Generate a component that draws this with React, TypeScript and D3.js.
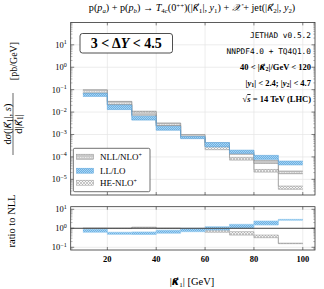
import React from 'react';
import * as d3 from 'd3';

// bin edges in |k1| [GeV]
const binEdges = [10, 20, 30, 40, 50, 60, 70, 80, 90, 100];

// NLL/NLO+ band [pb/GeV]
const nllLo = [0.066, 0.0214, 0.0072, 0.0025, 0.00078, 3.1e-4, 1.3e-4, 5.1e-5, 1.78e-5];
const nllHi = [0.098, 0.03, 0.0102, 0.0032, 0.001, 4.2e-4, 1.75e-4, 6.9e-5, 2.34e-5];
// LL/LO band
const llLo = [0.05, 0.0129, 0.0044, 0.00155, 0.00065, 2.8e-4, 1.44e-4, 7.8e-5, 4.4e-5];
const llHi = [0.069, 0.0204, 0.0065, 0.0023, 0.00081, 4.4e-4, 2.0e-4, 1.17e-4, 6.5e-5];
// HE-NLO+ band
const heLo = [0.068, 0.022, 0.0078, 0.0025, 0.0007, 2.1e-4, 7.2e-5, 2.1e-5, 3.6e-6];
const heHi = [0.095, 0.029, 0.011, 0.0032, 0.0009, 2.9e-4, 9.3e-5, 2.75e-5, 5.0e-6];

// ratio to NLL
const ratioLlLo = [0.62, 0.48, 0.47, 0.55, 0.66, 0.81, 1.0, 1.49, 2.65];
const ratioLlHi = [0.89, 0.62, 0.64, 0.79, 1.0, 1.21, 1.62, 2.42, 2.95];
const ratioHeLo = [0.96, 0.97, 1.1, 0.97, 0.8, 0.62, 0.44, 0.32, 0.155];
const ratioHeHi = [1.04, 1.03, 1.15, 1.03, 0.95, 0.81, 0.66, 0.44, 0.165];

const xTicks = [20, 40, 60, 80, 100];
const mainExps = [1, 0, -1, -2, -3, -4, -5];
const ratioExps = [1, 0, -1];

const serif = '"Liberation Serif", "DejaVu Serif", serif';
const mono = '"DejaVu Sans Mono", "Liberation Mono", monospace';
const kFont = '"DejaVu Sans", sans-serif';

const L = 70.7, R = 315;
const x = d3.scaleLinear().domain([5, 105]).range([L, R]);
const yMain = d3.scaleLog().domain([2e-6, 100]).range([195, 22.4]);
const yRatio = d3.scaleLog().domain([0.072, 13.7]).range([250, 206.7]);

const Pow = ({ e }: { e: number }) => (
  <>
    10<tspan dy={-3.5} fontSize={6}>{e < 0 ? '\u2212' + -e : e}</tspan>
  </>
);

function stairs(vals: number[], y: any) {
  const pts: [number, number][] = vals.map((v, i) => [binEdges[i], v]);
  pts.push([binEdges[binEdges.length - 1], vals[vals.length - 1]]);
  return d3.line<[number, number]>()
    .x(d => x(d[0]))
    .y(d => y(d[1]))
    .curve(d3.curveStepAfter)(pts) as string;
}

function Band({ lo, hi, y, fill, stroke }: { lo: number[]; hi: number[]; y: any; fill: string; stroke: string }) {
  return (
    <g>
      {lo.map((v, i) => (
        <rect key={i} x={x(binEdges[i])} width={x(binEdges[i + 1]) - x(binEdges[i])}
          y={y(hi[i])} height={Math.max(0.8, y(v) - y(hi[i]))} fill={fill} />
      ))}
      <path d={stairs(lo, y)} fill="none" stroke={stroke} strokeWidth={0.6} />
      <path d={stairs(hi, y)} fill="none" stroke={stroke} strokeWidth={0.6} />
    </g>
  );
}

function Frame({ top, bottom, y, exps }: { top: number; bottom: number; y: any; exps: number[] }) {
  const minor: number[] = [];
  const [d0, d1] = y.domain();
  for (let e = Math.floor(Math.log10(d0)); e <= Math.ceil(Math.log10(d1)); e++) {
    for (let m = 2; m < 10; m++) {
      const v = m * Math.pow(10, e);
      if (v > d0 && v < d1) minor.push(v);
    }
  }
  return (
    <g>
      {xTicks.map(t => (
        <line key={'gx' + t} x1={x(t)} x2={x(t)} y1={top} y2={bottom} stroke="#e4e4e4" strokeWidth={0.7} />
      ))}
      {exps.map(e => (
        <line key={'gy' + e} x1={L} x2={R} y1={y(Math.pow(10, e))} y2={y(Math.pow(10, e))} stroke="#e4e4e4" strokeWidth={0.7} />
      ))}
      {xTicks.map(t => (
        <g key={'tx' + t}>
          <line x1={x(t)} x2={x(t)} y1={top} y2={top + 3} stroke="#333" strokeWidth={0.6} />
          <line x1={x(t)} x2={x(t)} y1={bottom} y2={bottom - 3} stroke="#333" strokeWidth={0.6} />
        </g>
      ))}
      {exps.map(e => (
        <g key={'ty' + e}>
          <line x1={L} x2={L + 3.5} y1={y(Math.pow(10, e))} y2={y(Math.pow(10, e))} stroke="#333" strokeWidth={0.6} />
          <line x1={R} x2={R - 3.5} y1={y(Math.pow(10, e))} y2={y(Math.pow(10, e))} stroke="#333" strokeWidth={0.6} />
          <text x={L - 4} y={y(Math.pow(10, e)) + 3} textAnchor="end" fontSize={8.5} fontFamily={serif}>
            <Pow e={e} />
          </text>
        </g>
      ))}
      {minor.map((v, i) => (
        <g key={'m' + i}>
          <line x1={L} x2={L + 1.8} y1={y(v)} y2={y(v)} stroke="#555" strokeWidth={0.4} />
          <line x1={R} x2={R - 1.8} y1={y(v)} y2={y(v)} stroke="#555" strokeWidth={0.4} />
        </g>
      ))}
    </g>
  );
}

// kappa-vector with subscript; `after` is set back on the normal baseline
const K = ({ n, after, sub = 1.8 }: { n: number; after: string; sub?: number }) => (
  <>
    <tspan fontStyle="italic" fontFamily={kFont}>{'\u03BA\u20D7'}</tspan>
    <tspan dy={sub} fontSize="70%">{n}</tspan>
    <tspan dy={-sub}>{after}</tspan>
  </>
);

export default function App() {
  return (
    <svg width={324} height={289} style={{ position: 'absolute', left: 0, top: 0, background: '#fff' }}>
      <defs>
        <pattern id="pNll" width={2.5} height={3} patternUnits="userSpaceOnUse">
          <rect width={2.5} height={3} fill="#c9c9c9" />
          <rect x={0} y={1} width={1.2} height={0.9} fill="#f4f4f4" />
        </pattern>
        <pattern id="pLl" width={2} height={2} patternUnits="userSpaceOnUse">
          <rect width={2} height={2} fill="#6cb2e4" />
          <rect width={1} height={1} fill="#a9d3f2" />
          <rect x={1} y={1} width={1} height={1} fill="#a9d3f2" />
        </pattern>
        <pattern id="pHe" width={3} height={3} patternUnits="userSpaceOnUse">
          <rect width={3} height={3} fill="#f6f6f6" />
          <path d="M0,0 L3,3 M3,0 L0,3" stroke="#a8a8a8" strokeWidth={0.6} />
        </pattern>
      </defs>

      {/* title */}
      <text x={192} y={11} textAnchor="middle" fontSize={10.2} fontFamily={serif}>
        p(<tspan fontStyle="italic">p</tspan><tspan dy={1.8} fontSize={6.8} fontStyle="italic">a</tspan>
        <tspan dy={-1.8}>) + p(</tspan><tspan fontStyle="italic">p</tspan><tspan dy={1.8} fontSize={6.8} fontStyle="italic">b</tspan>
        <tspan dy={-1.8}>) → </tspan><tspan fontStyle="italic">T</tspan><tspan dy={1.8} fontSize={6.8}>4</tspan><tspan fontSize={6.8} fontStyle="italic">c</tspan>
        <tspan dy={-1.8}>(0</tspan><tspan dy={-3.4} fontSize={6.8}>++</tspan><tspan dy={3.4}>)(|</tspan>
        <K n={1} after="|, " /><tspan fontStyle="italic">y</tspan><tspan dy={1.8} fontSize={6.8}>1</tspan>
        <tspan dy={-1.8}>) + </tspan><tspan fontStyle="italic">𝒳</tspan><tspan> + jet(|</tspan>
        <K n={2} after="|, " /><tspan fontStyle="italic">y</tspan><tspan dy={1.8} fontSize={6.8}>2</tspan>
        <tspan dy={-1.8}>)</tspan>
      </text>

      {/* main panel */}
      <Frame top={22.4} bottom={195} y={yMain} exps={mainExps} />
      <Band lo={heLo} hi={heHi} y={yMain} fill="url(#pHe)" stroke="#9a9a9a" />
      <Band lo={nllLo} hi={nllHi} y={yMain} fill="url(#pNll)" stroke="#8a8a8a" />
      <Band lo={llLo} hi={llHi} y={yMain} fill="url(#pLl)" stroke="#5fa6dc" />
      <rect x={L} y={22.4} width={R - L} height={195 - 22.4} fill="none" stroke="#333" strokeWidth={0.8} />

      {/* DeltaY box */}
      <rect x={80} y={33.5} width={92.5} height={19.5} rx={2.5} fill="#fff" stroke="#222" strokeWidth={0.8} />
      <text x={126.2} y={48.3} textAnchor="middle" fontSize={14} fontWeight="bold" fontFamily={serif}>
        3 &lt; Δ<tspan fontStyle="italic">Y</tspan> &lt; 4.5
      </text>

      {/* right annotations */}
      <text x={311} y={38} textAnchor="end" fontSize={7.8} fontFamily={mono}>JETHAD v0.5.2</text>
      <text x={311} y={54} textAnchor="end" fontSize={7.8} fontFamily={mono}>NNPDF4.0 + TQ4Q1.0</text>
      <text x={311} y={69.5} textAnchor="end" fontSize={8.5} fontFamily={serif} fontWeight="bold">
        40 &lt; |<K n={2} after="|/GeV < 120" />
      </text>
      <text x={311} y={85.5} textAnchor="end" fontSize={8.5} fontFamily={serif} fontWeight="bold">
        |<tspan fontStyle="italic">y</tspan><tspan dy={1.8} fontSize={6}>1</tspan><tspan dy={-1.8}>| &lt; 2.4;  |</tspan>
        <tspan fontStyle="italic">y</tspan><tspan dy={1.8} fontSize={6}>2</tspan><tspan dy={-1.8}>| &lt; 4.7</tspan>
      </text>
      <text x={311} y={102} textAnchor="end" fontSize={8.5} fontFamily={serif} fontWeight="bold">
        √<tspan textDecoration="overline" fontStyle="italic">s</tspan> = 14 TeV (LHC)
      </text>

      {/* legend */}
      <rect x={73.3} y={148.3} width={76.7} height={43.4} rx={1.5} fill="#fff" stroke="#333" strokeWidth={0.7} />
      <rect x={76.5} y={154.2} width={17} height={5} fill="url(#pNll)" stroke="#8a8a8a" strokeWidth={0.5} />
      <rect x={76.5} y={168.2} width={17} height={5} fill="url(#pLl)" stroke="#5fa6dc" strokeWidth={0.5} />
      <rect x={76.5} y={180.2} width={17} height={5} fill="url(#pHe)" stroke="#9a9a9a" strokeWidth={0.5} />
      <text x={100} y={159.5} fontSize={9} fontFamily={serif}>NLL/NLO<tspan dy={-3} fontSize={6}>+</tspan></text>
      <text x={100} y={173.5} fontSize={9} fontFamily={serif}>LL/LO</text>
      <text x={100} y={185.5} fontSize={9} fontFamily={serif}>HE-NLO<tspan dy={-3} fontSize={6}>+</tspan></text>

      {/* ratio panel */}
      <Frame top={206.7} bottom={250} y={yRatio} exps={ratioExps} />
      <Band lo={ratioHeLo} hi={ratioHeHi} y={yRatio} fill="url(#pHe)" stroke="#9a9a9a" />
      <Band lo={ratioLlLo} hi={ratioLlHi} y={yRatio} fill="url(#pLl)" stroke="#8cc4ec" />
      <line x1={L} x2={R} y1={yRatio(1)} y2={yRatio(1)} stroke="#444" strokeWidth={1} />
      <rect x={L} y={206.7} width={R - L} height={250 - 206.7} fill="none" stroke="#333" strokeWidth={0.8} />

      {/* x tick labels */}
      {xTicks.map(t => (
        <text key={t} x={x(t)} y={262} textAnchor="middle" fontSize={8.5} fontWeight="bold" fontFamily={serif}>{t}</text>
      ))}
      <text x={192} y={285} textAnchor="middle" fontSize={10.5} fontFamily={serif}>
        |<tspan fontStyle="italic" fontWeight="bold" fontFamily={kFont}>{'\u03BA\u20D7'}</tspan><tspan dy={2} fontSize={7}>1</tspan><tspan dy={-2}>| [GeV]</tspan>
      </text>

      {/* y labels */}
      <g transform="translate(13,124) rotate(-90)">
        <text x={0} y={-2} textAnchor="middle" fontSize={10.5} fontFamily={serif}>
          d<tspan fontStyle="italic">σ</tspan>(|<K n={1} after="|, " /><tspan fontStyle="italic">s</tspan>)
        </text>
        <line x1={-31} x2={31} y1={0} y2={0} stroke="#000" strokeWidth={0.6} />
        <text x={0} y={8.5} textAnchor="middle" fontSize={10.5} fontFamily={serif}>
          d|<K n={1} after="|" />
        </text>
        <text x={63} y={4} textAnchor="middle" fontSize={10} fontFamily={serif}>[pb/GeV]</text>
      </g>
      <text transform="translate(15,221) rotate(-90)" textAnchor="middle" fontSize={10.5} fontFamily={serif}>
        ratio to NLL
      </text>
    </svg>
  );
}
